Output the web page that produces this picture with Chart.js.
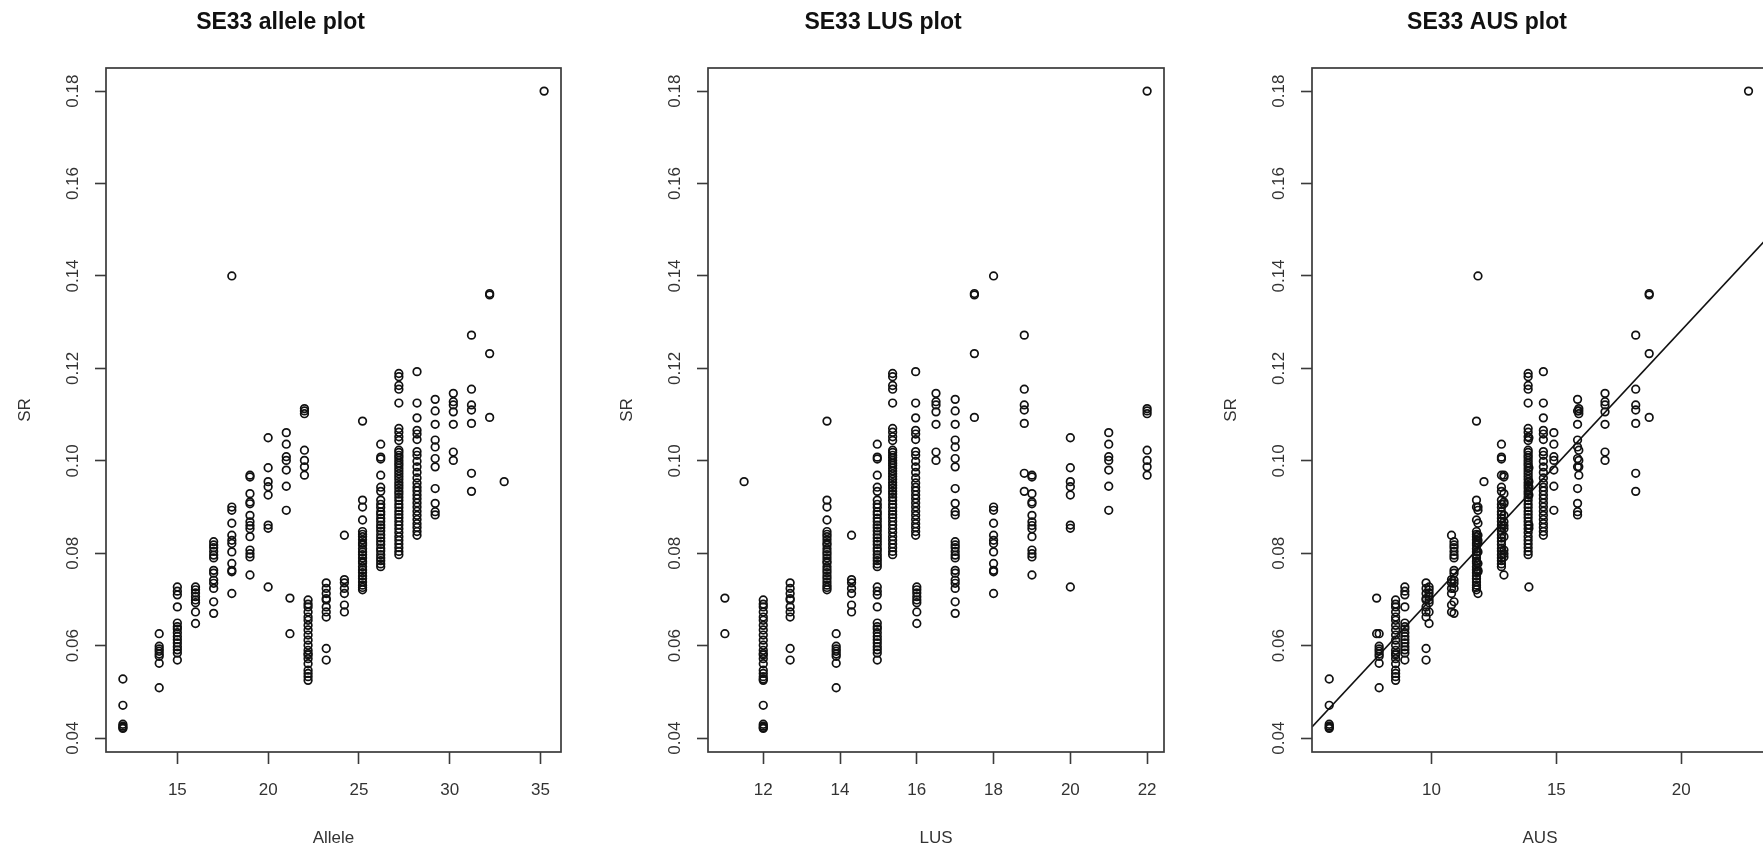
<!DOCTYPE html>
<html>
<head>
<meta charset="utf-8">
<script src="https://cdn.jsdelivr.net/npm/chart.js@4.4.0/dist/chart.umd.min.js"></script>
<style>
  html, body { margin: 0; padding: 0; background: #fff; overflow: hidden; width: 1763px; height: 852px; }
  canvas { position: absolute; top: 0; }
</style>
</head>
<body>
<canvas id="allele-chart" width="667" height="852" style="left:0px"></canvas>
<canvas id="lus-chart" width="668" height="852" style="left:602px"></canvas>
<canvas id="aus-chart" width="668" height="852" style="left:1206px"></canvas>
<script>
// One entry per allele group: allele, LUS and AUS of the group, and the SR values
const alleleVals = [12, 14, 15, 16, 17, 18, 19, 20, 21, 21.2, 22, 22.2, 23.2, 24.2, 25.2, 26.2, 27.2, 28.2, 29.2, 30.2, 31.2, 32.2, 33, 35.2];
const lusVals    = [12, 13.9, 14.97, 16, 17, 18, 19, 20, 21, 11, 22, 12, 12.7, 14.3, 13.66, 14.97, 15.37, 15.97, 17, 16.5, 18.8, 17.5, 11.5, 22];
const ausVals    = [5.9, 7.9, 8.93, 9.9, 10.9, 11.86, 12.9, 13.9, 14.9, 7.8, 15.9, 8.56, 9.78, 10.8, 11.8, 12.8, 13.87, 14.48, 15.85, 16.95, 18.18, 18.72, 12.1, 22.7];
const srVals = [
    [0.0528, 0.0471, 0.0430, 0.0426, 0.0423, 0.0421],
    [0.0626, 0.0599, 0.0593, 0.0588, 0.0582, 0.0577, 0.0562, 0.0509],
    [0.0727, 0.0718, 0.0710, 0.0684, 0.0649, 0.0641, 0.0636, 0.0628, 0.0620, 0.0613, 0.0606, 0.0598, 0.0591, 0.0584, 0.0569],
    [0.0727, 0.0721, 0.0714, 0.0706, 0.0699, 0.0693, 0.0673, 0.0648],
    [0.0825, 0.0818, 0.0812, 0.0804, 0.0796, 0.0790, 0.0763, 0.0757, 0.0742, 0.0735, 0.0724, 0.0695, 0.0670],
    [0.1400, 0.0900, 0.0893, 0.0865, 0.0839, 0.0828, 0.0821, 0.0803, 0.0778, 0.0763, 0.0760, 0.0713],
    [0.0969, 0.0965, 0.0929, 0.0911, 0.0907, 0.0882, 0.0868, 0.0860, 0.0853, 0.0836, 0.0807, 0.0799, 0.0792, 0.0753],
    [0.1050, 0.0985, 0.0955, 0.0944, 0.0926, 0.0861, 0.0854, 0.0727],
    [0.1061, 0.1036, 0.1009, 0.1001, 0.0980, 0.0945, 0.0893],
    [0.0703, 0.0626],
    [0.1113, 0.1108, 0.1102, 0.1023, 0.1001, 0.0987, 0.0969],
    [0.0699, 0.0690, 0.0684, 0.0673, 0.0662, 0.0655, 0.0644, 0.0634, 0.0623, 0.0612, 0.0601, 0.0590, 0.0583, 0.0580, 0.0572, 0.0561, 0.0547, 0.0540, 0.0533, 0.0525],
    [0.0736, 0.0724, 0.0713, 0.0702, 0.0699, 0.0684, 0.0673, 0.0662, 0.0594, 0.0569],
    [0.0839, 0.0743, 0.0736, 0.0724, 0.0713, 0.0688, 0.0673],
    [0.1086, 0.0915, 0.0900, 0.0872, 0.0847, 0.0841, 0.0836, 0.0829, 0.0822, 0.0818, 0.0810, 0.0803, 0.0797, 0.0790, 0.0783, 0.0779, 0.0771, 0.0764, 0.0758, 0.0751, 0.0745, 0.0738, 0.0731, 0.0726, 0.0721],
    [0.1036, 0.1008, 0.1004, 0.0969, 0.0943, 0.0934, 0.0915, 0.0906, 0.0899, 0.0890, 0.0884, 0.0876, 0.0869, 0.0861, 0.0855, 0.0848, 0.0840, 0.0833, 0.0826, 0.0819, 0.0811, 0.0805, 0.0797, 0.0790, 0.0784, 0.0777, 0.0771],
    [0.1189, 0.1182, 0.1163, 0.1155, 0.1125, 0.1070, 0.1062, 0.1052, 0.1044, 0.1023, 0.1018, 0.1012, 0.1007, 0.1001, 0.0995, 0.0990, 0.0984, 0.0978, 0.0972, 0.0966, 0.0960, 0.0953, 0.0947, 0.0941, 0.0934, 0.0928, 0.0921, 0.0914, 0.0906, 0.0899, 0.0891, 0.0884, 0.0877, 0.0869, 0.0861, 0.0853, 0.0845, 0.0836, 0.0828, 0.0820, 0.0812, 0.0804, 0.0797],
    [0.1193, 0.1125, 0.1093, 0.1066, 0.1058, 0.1046, 0.1020, 0.1012, 0.0999, 0.0987, 0.0975, 0.0963, 0.0952, 0.0943, 0.0935, 0.0926, 0.0918, 0.0909, 0.0900, 0.0891, 0.0882, 0.0873, 0.0864, 0.0856, 0.0847, 0.0839],
    [0.1133, 0.1108, 0.1079, 0.1045, 0.1030, 0.1005, 0.0987, 0.0940, 0.0908, 0.0890, 0.0883],
    [0.1146, 0.1128, 0.1121, 0.1106, 0.1079, 0.1019, 0.1001],
    [0.1272, 0.1155, 0.1121, 0.1110, 0.1081, 0.0973, 0.0934],
    [0.1362, 0.1359, 0.1232, 0.1094],
    [0.0955],
    [0.1800]
];

// Tick labels
const srTicks = [0.04, 0.06, 0.08, 0.10, 0.12, 0.14, 0.16, 0.18];
const alleleTicks = [15, 20, 25, 30, 35];
const lusTicks = [12, 14, 16, 18, 20, 22];
const ausTicks = [10, 15, 20];

// Regression line drawn on the AUS plot
const fitIntercept = 0.0122;
const fitSlope = 0.0058;

Chart.defaults.font.family = '"Liberation Sans", Arial, Helvetica, sans-serif';

// R style box round the plot region
const boxPlugin = {
    id: 'box',
    afterDatasetsDraw(chart) {
        const { ctx, chartArea: a } = chart;
        ctx.save();
        ctx.strokeStyle = '#3a3a3a';
        ctx.lineWidth = 1.7;
        ctx.strokeRect(a.left, a.top, a.right - a.left, a.bottom - a.top);
        ctx.restore();
    }
};

function points(xVals) {
    const pts = [];
    xVals.forEach((x, i) => {
        srVals[i].forEach(v => pts.push({ x: x, y: v }));
    });
    return pts;
}

function makeChart(canvasId, xVals, xTicks, xMin, xMax, xTitle, title, padRight, withFit) {
    const datasets = [{
        data: points(xVals),
        pointStyle: 'circle',
        pointRadius: 3.8,
        pointBorderWidth: 1.7,
        pointBorderColor: '#111',
        pointBackgroundColor: 'rgba(0,0,0,0)'
    }];

    if (withFit) {
        datasets.push({
            type: 'line',
            data: [
                { x: xMin, y: fitIntercept + fitSlope * xMin },
                { x: xMax, y: fitIntercept + fitSlope * xMax }
            ],
            borderColor: '#111',
            borderWidth: 1.6,
            pointRadius: 0,
            fill: false
        });
    }

    const tickGrid = {
        display: true,
        drawOnChartArea: false,
        drawTicks: true,
        tickColor: '#3a3a3a',
        tickWidth: 1.6
    };

    return new Chart(document.getElementById(canvasId), {
        type: 'scatter',
        data: { datasets: datasets },
        options: {
            responsive: false,
            animation: false,
            events: [],
            layout: { padding: { left: 0, right: padRight, top: 0, bottom: 0 } },
            plugins: {
                legend: { display: false },
                tooltip: { enabled: false },
                title: {
                    display: true,
                    text: title,
                    color: '#111',
                    font: { size: 23, weight: 'bold' },
                    padding: { top: 9.2, bottom: 31.2 }
                }
            },
            scales: {
                x: {
                    type: 'linear',
                    position: 'bottom',
                    min: xMin,
                    max: xMax,
                    afterBuildTicks: s => { s.ticks = xTicks.map(v => ({ value: v })); },
                    afterFit: s => { s.height = 100; },
                    border: { display: false },
                    grid: Object.assign({ tickLength: 12 }, tickGrid),
                    ticks: {
                        autoSkip: false,
                        maxRotation: 0,
                        padding: 16.5,
                        color: '#333',
                        font: { size: 17 }
                    },
                    title: {
                        display: true,
                        text: xTitle,
                        color: '#333',
                        font: { size: 17 },
                        padding: { top: 0, bottom: 3.8 }
                    }
                },
                y: {
                    type: 'linear',
                    min: 0.037,
                    max: 0.185,
                    afterBuildTicks: s => { s.ticks = srTicks.map(v => ({ value: v })); },
                    afterFit: s => { s.width = 106; },
                    border: { display: false },
                    grid: Object.assign({ tickLength: 11 }, tickGrid),
                    ticks: {
                        autoSkip: false,
                        minRotation: 90,
                        maxRotation: 90,
                        crossAlign: 'center',
                        padding: 5,
                        color: '#333',
                        font: { size: 17 },
                        callback: v => v.toFixed(2)
                    },
                    title: {
                        display: true,
                        text: 'SR',
                        color: '#333',
                        font: { size: 17 },
                        padding: { top: 14.8, bottom: 0 }
                    }
                }
            }
        },
        plugins: [boxPlugin]
    });
}

makeChart('allele-chart', alleleVals, alleleTicks, 11.07, 36.13, 'Allele', 'SE33 allele plot', 106, false);
makeChart('lus-chart', lusVals, lusTicks, 10.56, 22.44, 'LUS', 'SE33 LUS plot', 106, false);
makeChart('aus-chart', ausVals, ausTicks, 5.21, 23.48, 'AUS', 'SE33 AUS plot', 106, true);
</script>
</body>
</html>
